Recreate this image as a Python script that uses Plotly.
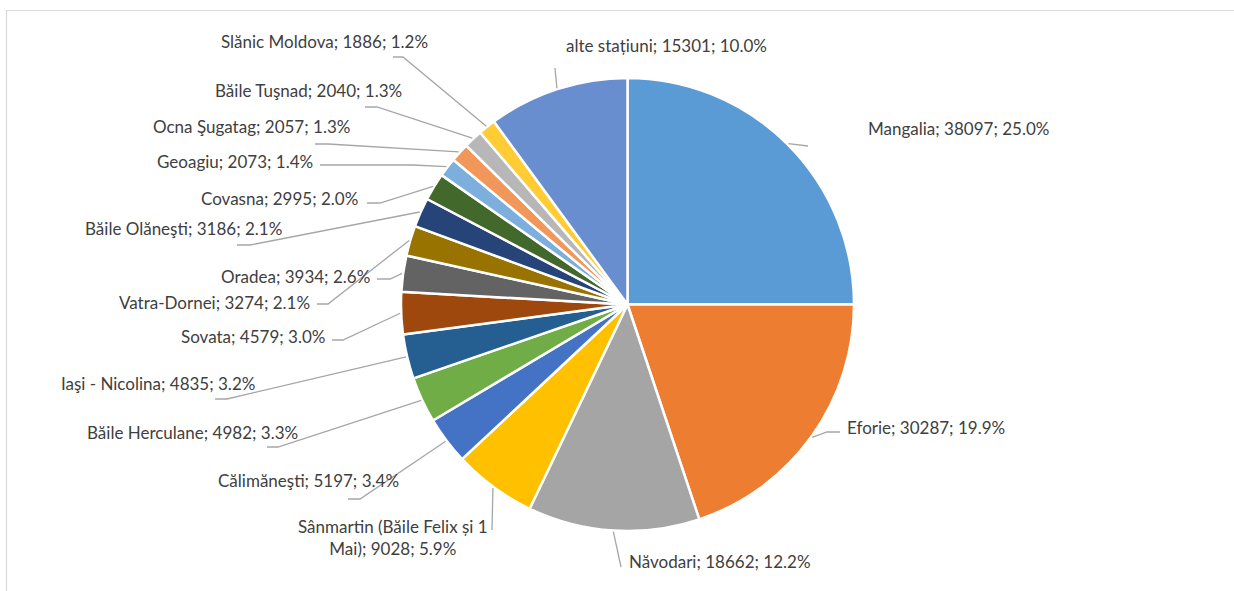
import math
import plotly.graph_objects as go

# ---------------- data ----------------
categories = [
    "Mangalia", "Eforie", "Năvodari", "Sânmartin (Băile Felix și 1 Mai)",
    "Călimăneşti", "Băile Herculane", "Iaşi - Nicolina", "Sovata", "Oradea",
    "Vatra-Dornei", "Băile Olăneşti", "Covasna", "Geoagiu", "Ocna Şugatag",
    "Băile Tuşnad", "Slănic Moldova", "alte stațiuni",
]
values = [38097, 30287, 18662, 9028, 5197, 4982, 4835, 4579, 3934,
          3274, 3186, 2995, 2073, 2057, 2040, 1886, 15301]

# ---------------- style ----------------
colors = ["#5B9BD5", "#ED7D31", "#A5A5A5", "#FFC000", "#4472C4", "#70AD47",
          "#255E91", "#9E480E", "#636363", "#997300", "#264478", "#43682B",
          "#7CAFDD", "#F1975A", "#B7B7B7", "#FFCD33", "#698ED0"]

W, H = 1234, 591
CX, CY, R = 627.5, 304.5, 226.5  # pie centre / radius in pixels

# label anchor (x, y, xanchor) in pixels and leader elbow points (pixels)
label_style = [
    (866, 128, "left", [(808, 146)]),
    (845, 427, "left", [(840, 432), (827, 432)]),
    (627, 561, "left", [(621, 567)]),
    (393, 537, "center", [(492, 530)]),
    (401, 480, "right", [(348, 499), (360, 499)]),
    (300, 432, "right", [(267, 447), (278, 447)]),
    (257, 383, "right", [(215, 399), (227, 399)]),
    (327, 336, "right", [(332, 340), (343, 340)]),
    (372, 276, "right", [(377, 279), (390, 279)]),
    (312, 302, "right", [(317, 304), (328, 304)]),
    (284, 228, "right", [(237, 245), (250, 245)]),
    (360, 199, "right", [(367, 203), (380, 203)]),
    (315, 162, "right", [(320, 165), (413, 165)]),
    (352, 127, "right", [(315, 144), (328, 144)]),
    (404, 90, "right", [(365, 107), (377, 107)]),
    (430, 42, "right", [(393, 57), (403, 57)]),
    (666, 45, "center", [(555, 68)]),
]
wrap_rules = {3: ("1 Mai)", "1<br>Mai)")}

FONT = "Lato"
FSIZE = 17
TXT = "#404040"
LEAD = "#A6A6A6"


def px(x):
    return x / W


def py(y):
    return 1 - y / H


total = sum(values)

fig = go.Figure(go.Pie(
    labels=categories, values=values, sort=False, direction="clockwise",
    rotation=0, textinfo="none", hoverinfo="label+value+percent",
    marker=dict(colors=colors, line=dict(color="white", width=2.5)),
    domain=dict(x=[px(CX - R), px(CX + R)], y=[py(CY + R), py(CY - R)]),
    showlegend=False,
))

annotations = []
shapes = []
cum = 0.0
for i, (name, v) in enumerate(zip(categories, values)):
    frac = v / total
    mid = (cum + frac / 2) * 2 * math.pi
    cum += frac
    ex = CX + (R + 1) * math.sin(mid)
    ey = CY - (R + 1) * math.cos(mid)
    text = f"{name}; {v}; {frac * 100:.1f}%"
    if i in wrap_rules:
        a, b = wrap_rules[i]
        text = text.replace(a, b)
    lx, ly, anchor, pts = label_style[i]
    annotations.append(dict(
        x=px(lx), y=py(ly), xref="paper", yref="paper", text=text,
        showarrow=False, xanchor=anchor, yanchor="middle", align="center",
        font=dict(family=FONT, size=FSIZE, color=TXT),
    ))
    allpts = list(pts) + [(ex, ey)]
    path = "M " + " L ".join(f"{px(x):.5f},{py(y):.5f}" for x, y in allpts)
    shapes.append(dict(type="path", xref="paper", yref="paper", path=path,
                       line=dict(color=LEAD, width=1.3)))

# chart frame
shapes.append(dict(type="line", xref="paper", yref="paper",
                   x0=px(6), x1=1, y0=py(10.5), y1=py(10.5),
                   line=dict(color="#D9D9D9", width=1.2)))
shapes.append(dict(type="line", xref="paper", yref="paper",
                   x0=px(6.5), x1=px(6.5), y0=py(10), y1=0,
                   line=dict(color="#D9D9D9", width=1.2)))

fig.update_layout(
    width=W, height=H, margin=dict(l=0, r=0, t=0, b=0),
    paper_bgcolor="white", plot_bgcolor="white",
    annotations=annotations, shapes=shapes,
    font=dict(family=FONT, color=TXT),
)

fig.write_html("out.html", config={"displayModeBar": False},
               post_script="document.body.style.margin='0';"
                           "document.body.style.overflow='hidden';")
